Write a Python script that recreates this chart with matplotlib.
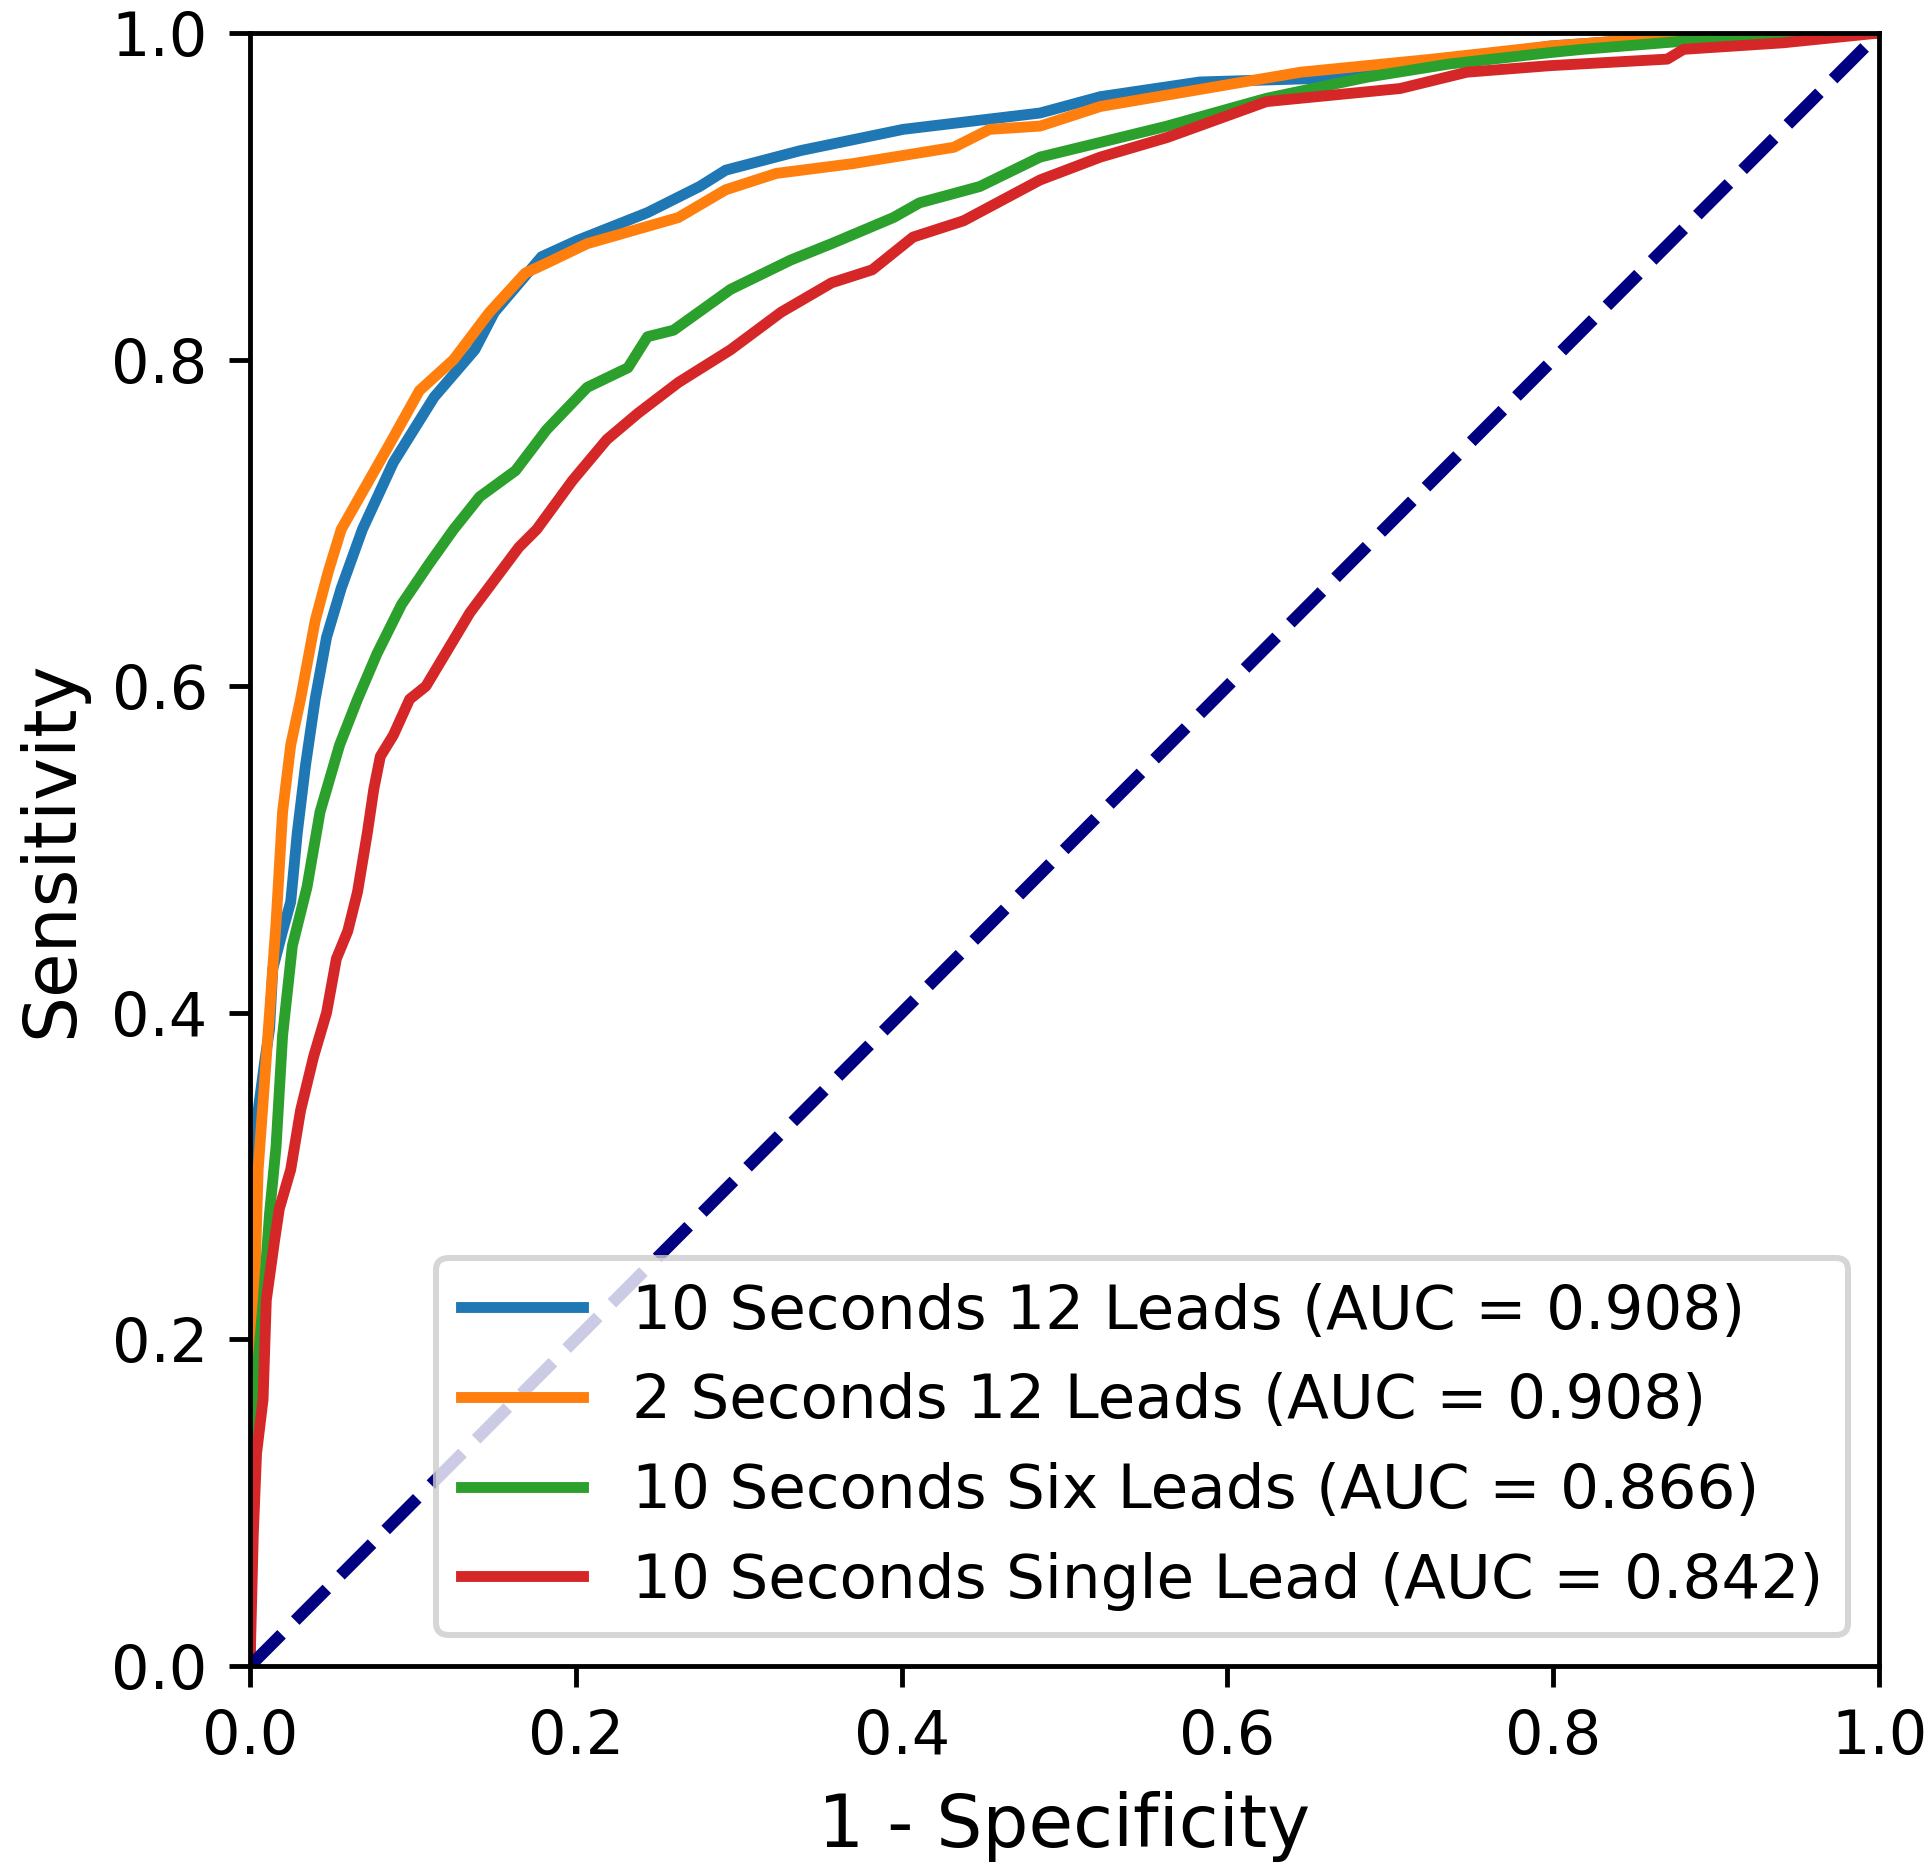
import numpy as np
import matplotlib
matplotlib.use('Agg')
import matplotlib.pyplot as plt

# ROC points (false positive rate, true positive rate)
fpr_10s_12 = [0, 0.0005, 0.001, 0.002, 0.005, 0.009, 0.012, 0.014, 0.020, 0.025, 0.029, 0.034, 0.040,
              0.047, 0.056, 0.069, 0.088, 0.113, 0.138, 0.150, 0.179, 0.201, 0.244, 0.276, 0.292, 0.338,
              0.401, 0.485, 0.522, 0.583, 0.650, 0.700, 0.740, 0.798, 0.840, 0.900, 1.0]
tpr_10s_12 = [0, 0.15, 0.25, 0.30, 0.34, 0.37, 0.39, 0.427, 0.45, 0.468, 0.510, 0.551, 0.592,
              0.630, 0.660, 0.696, 0.737, 0.777, 0.806, 0.829, 0.863, 0.873, 0.890, 0.906, 0.916, 0.928,
              0.941, 0.951, 0.961, 0.970, 0.972, 0.976, 0.984, 0.992, 0.995, 0.998, 1.0]

fpr_2s_12 = [0, 0.001, 0.003, 0.005, 0.008, 0.012, 0.016, 0.020, 0.025, 0.031, 0.040, 0.048, 0.056,
             0.085, 0.104, 0.125, 0.147, 0.169, 0.182, 0.207, 0.263, 0.292, 0.323, 0.370, 0.432, 0.454,
             0.485, 0.522, 0.645, 0.726, 0.798, 0.840, 0.920, 1.0]
tpr_2s_12 = [0, 0.17, 0.236, 0.304, 0.345, 0.400, 0.455, 0.523, 0.564, 0.592, 0.640, 0.670, 0.696,
             0.747, 0.781, 0.800, 0.829, 0.853, 0.859, 0.871, 0.887, 0.904, 0.914, 0.920, 0.930, 0.941,
             0.943, 0.955, 0.976, 0.984, 0.992, 0.995, 0.998, 1.0]

fpr_10s_6 = [0, 0.001, 0.003, 0.008, 0.012, 0.016, 0.020, 0.026, 0.035, 0.043, 0.055, 0.066, 0.078,
             0.093, 0.110, 0.125, 0.141, 0.163, 0.182, 0.207, 0.232, 0.244, 0.260, 0.295, 0.332, 0.357,
             0.395, 0.411, 0.448, 0.485, 0.522, 0.563, 0.624, 0.686, 0.736, 0.798, 0.818, 0.880, 1.0]
tpr_10s_6 = [0, 0.10, 0.163, 0.222, 0.277, 0.318, 0.386, 0.441, 0.477, 0.523, 0.564, 0.592, 0.620,
             0.650, 0.675, 0.696, 0.716, 0.732, 0.757, 0.783, 0.795, 0.814, 0.818, 0.843, 0.861, 0.871,
             0.887, 0.896, 0.906, 0.924, 0.933, 0.943, 0.960, 0.973, 0.981, 0.988, 0.990, 0.995, 1.0]

fpr_10s_1 = [0, 0.002, 0.004, 0.008, 0.010, 0.015, 0.018, 0.025, 0.031, 0.039, 0.047, 0.053, 0.060,
             0.066, 0.072, 0.076, 0.080, 0.088, 0.098, 0.108, 0.120, 0.135, 0.150, 0.165, 0.176, 0.198,
             0.219, 0.238, 0.263, 0.295, 0.326, 0.357, 0.382, 0.407, 0.438, 0.485, 0.522, 0.563, 0.624,
             0.706, 0.747, 0.798, 0.870, 0.880, 0.941, 1.0]
tpr_10s_1 = [0, 0.08, 0.13, 0.163, 0.224, 0.260, 0.280, 0.304, 0.340, 0.373, 0.400, 0.433, 0.450,
             0.474, 0.510, 0.537, 0.557, 0.570, 0.592, 0.600, 0.620, 0.645, 0.665, 0.685, 0.696, 0.726,
             0.751, 0.767, 0.786, 0.806, 0.829, 0.847, 0.855, 0.875, 0.885, 0.910, 0.924, 0.936, 0.958,
             0.966, 0.976, 0.980, 0.984, 0.990, 0.994, 1.0]

labels = ['10 Seconds 12 Leads (AUC = 0.908)',
          '2 Seconds 12 Leads (AUC = 0.908)',
          '10 Seconds Six Leads (AUC = 0.866)',
          '10 Seconds Single Lead (AUC = 0.842)']

fig = plt.figure(figsize=(1932/435, 1875/435), dpi=435)
fig.subplots_adjust(left=0.1294, right=0.9726, bottom=0.1115, top=0.9824)
ax = fig.add_subplot(111)

ax.plot(fpr_10s_12, tpr_10s_12, color='tab:blue', lw=1.8, label=labels[0])
ax.plot(fpr_2s_12, tpr_2s_12, color='tab:orange', lw=1.8, label=labels[1])
ax.plot(fpr_10s_6, tpr_10s_6, color='tab:green', lw=1.8, label=labels[2])
ax.plot(fpr_10s_1, tpr_10s_1, color='tab:red', lw=1.8, label=labels[3])
ax.plot([0, 1], [0, 1], color='navy', lw=2, linestyle='--')

ax.set_xlim(0.0, 1.0)
ax.set_ylim(0.0, 1.0)
ax.set_xlabel('1 - Specificity', fontsize=12)
ax.set_ylabel('Sensitivity', fontsize=12)
ax.legend(loc='lower right', fontsize=10.15)

fig.savefig('out.png', dpi=435)
